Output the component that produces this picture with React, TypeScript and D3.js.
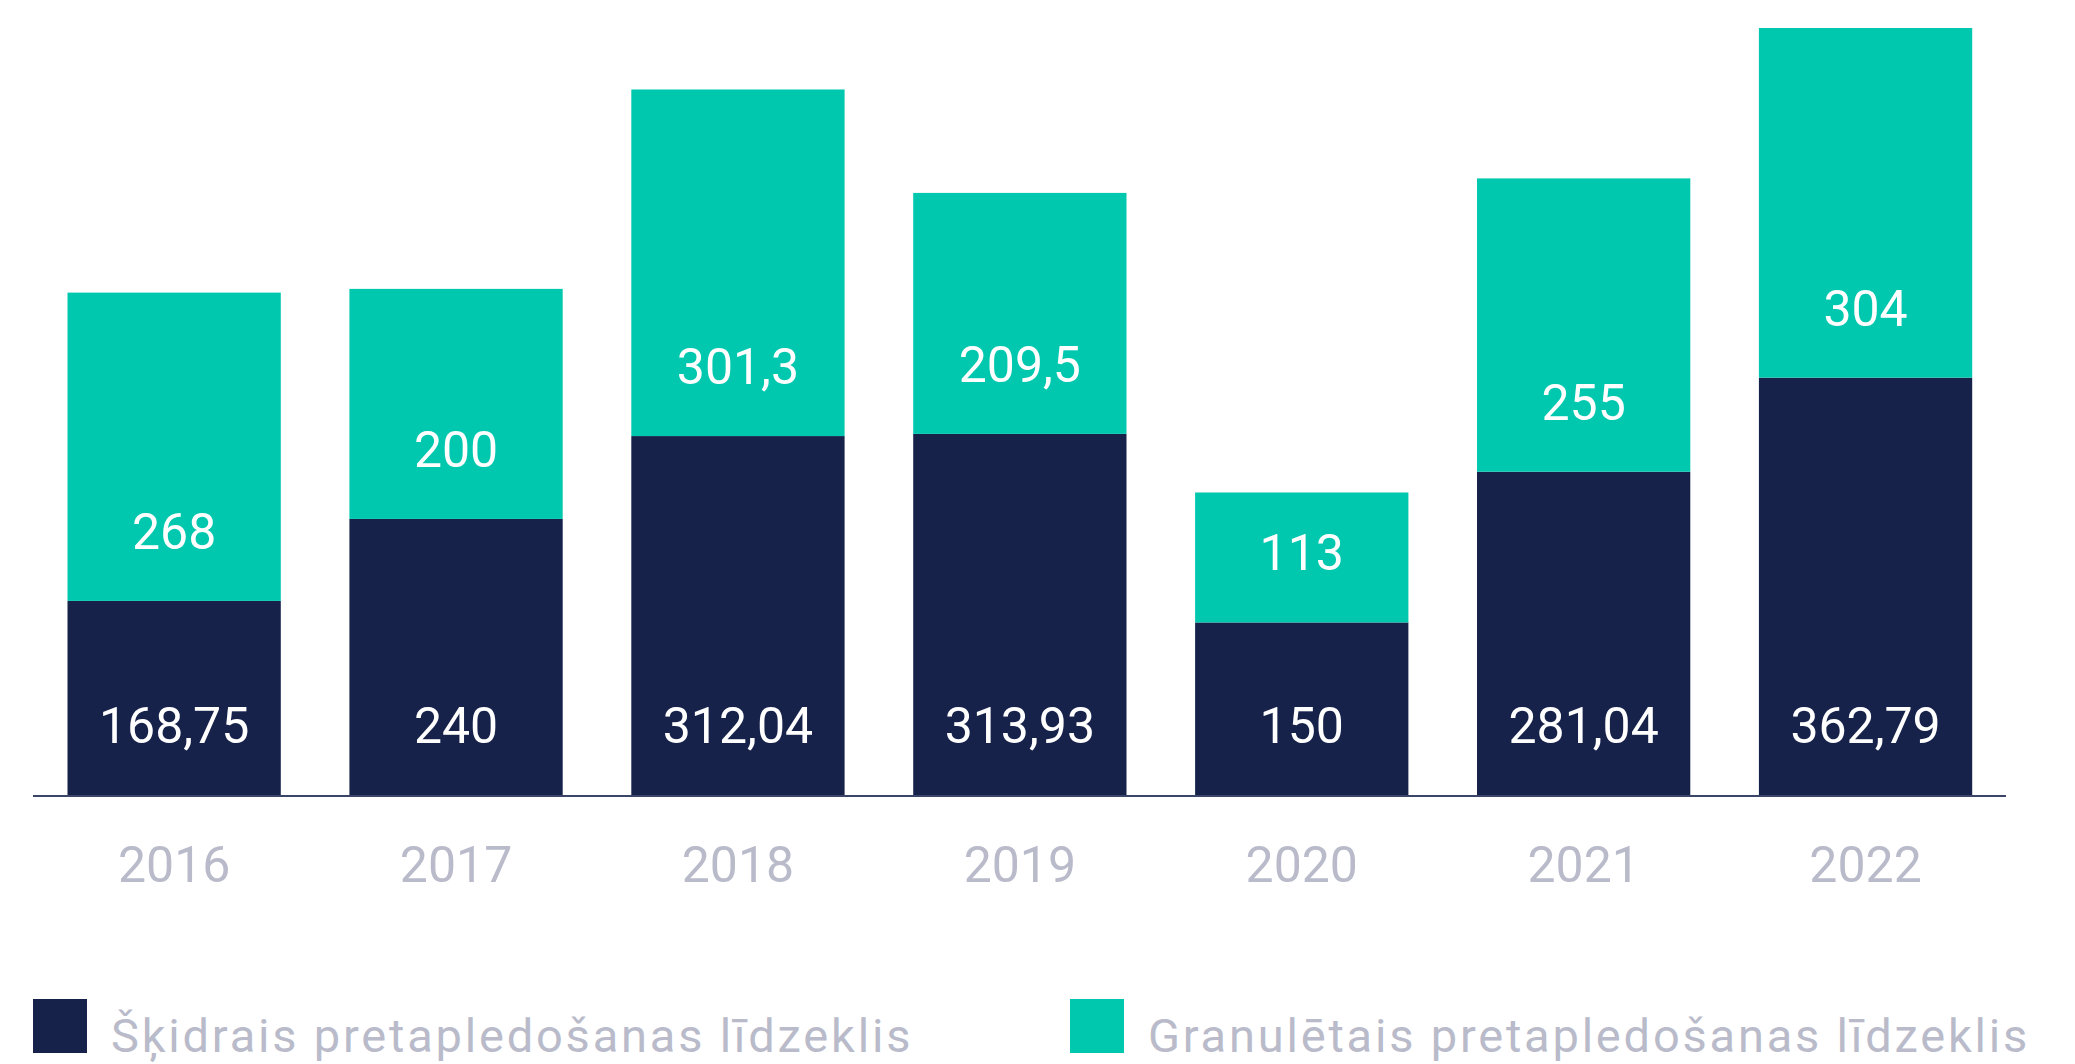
import React from "react";
import * as d3 from "d3";

const years = ["2016", "2017", "2018", "2019", "2020", "2021", "2022"];
const liquid = [168.75, 240, 312.04, 313.93, 150, 281.04, 362.79];
const granular = [268, 200, 301.3, 209.5, 113, 255, 304];
const liquidLabels = ["168,75", "240", "312,04", "313,93", "150", "281,04", "362,79"];
const granularLabels = ["268", "200", "301,3", "209,5", "113", "255", "304"];
const seriesNames = ["Šķidrais pretapledošanas līdzeklis", "Granulētais pretapledošanas līdzeklis"];

const W = 2075;
const H = 1064;
const DARK = "#17224b";
const TEAL = "#00c8af";
const GREY = "#b9bbca";
const FONT = "Roboto, 'Noto Sans', sans-serif";

export default function App() {
  const x = d3
    .scaleBand<string>()
    .domain(years)
    .range([33, 2006.7])
    .paddingInner(0.2434)
    .paddingOuter(0.1224);
  const maxTotal = d3.max(years.map((_, i) => liquid[i] + granular[i])) as number;
  const y = d3.scaleLinear().domain([0, maxTotal]).range([795, 28]);

  const stack = d3
    .stack<number>()
    .keys(["liquid", "granular"])
    .value((i, key) => (key === "liquid" ? liquid[i] : granular[i]));
  const series = stack(years.map((_, i) => i));
  const colors = [DARK, TEAL];
  const labels = [liquidLabels, granularLabels];

  return (
    <svg width={W} height={H} style={{ position: "absolute", left: 0, top: 0, background: "#fff" }}>
      {series.map((s, si) => (
        <g key={si}>
          {s.map((d, i) => (
            <rect
              key={i}
              x={x(years[i])}
              y={y(d[1])}
              width={x.bandwidth()}
              height={y(d[0]) - y(d[1])}
              fill={colors[si]}
            />
          ))}
          {s.map((d, i) => (
            <text
              key={"t" + i}
              x={(x(years[i]) as number) + x.bandwidth() / 2}
              y={y(d[0]) - 52}
              textAnchor="middle"
              fill="#fff"
              fontFamily={FONT}
              fontSize={50}
            >
              {labels[si][i]}
            </text>
          ))}
        </g>
      ))}
      <line x1={33} x2={2006} y1={796} y2={796} stroke="#3a4568" strokeWidth={2} />
      {years.map((yr) => (
        <text
          key={yr}
          x={(x(yr) as number) + x.bandwidth() / 2}
          y={882}
          textAnchor="middle"
          fill={GREY}
          fontFamily={FONT}
          fontSize={50}
        >
          {yr}
        </text>
      ))}
      {seriesNames.map((name, i) => {
        const lx = i === 0 ? 33 : 1070;
        return (
          <g key={name}>
            <rect x={lx} y={999} width={54} height={54} fill={colors[i]} />
            <text
              x={lx + 78}
              y={1052}
              fill={GREY}
              fontFamily={FONT}
              fontSize={47}
              letterSpacing={2.8}
            >
              {name}
            </text>
          </g>
        );
      })}
    </svg>
  );
}
